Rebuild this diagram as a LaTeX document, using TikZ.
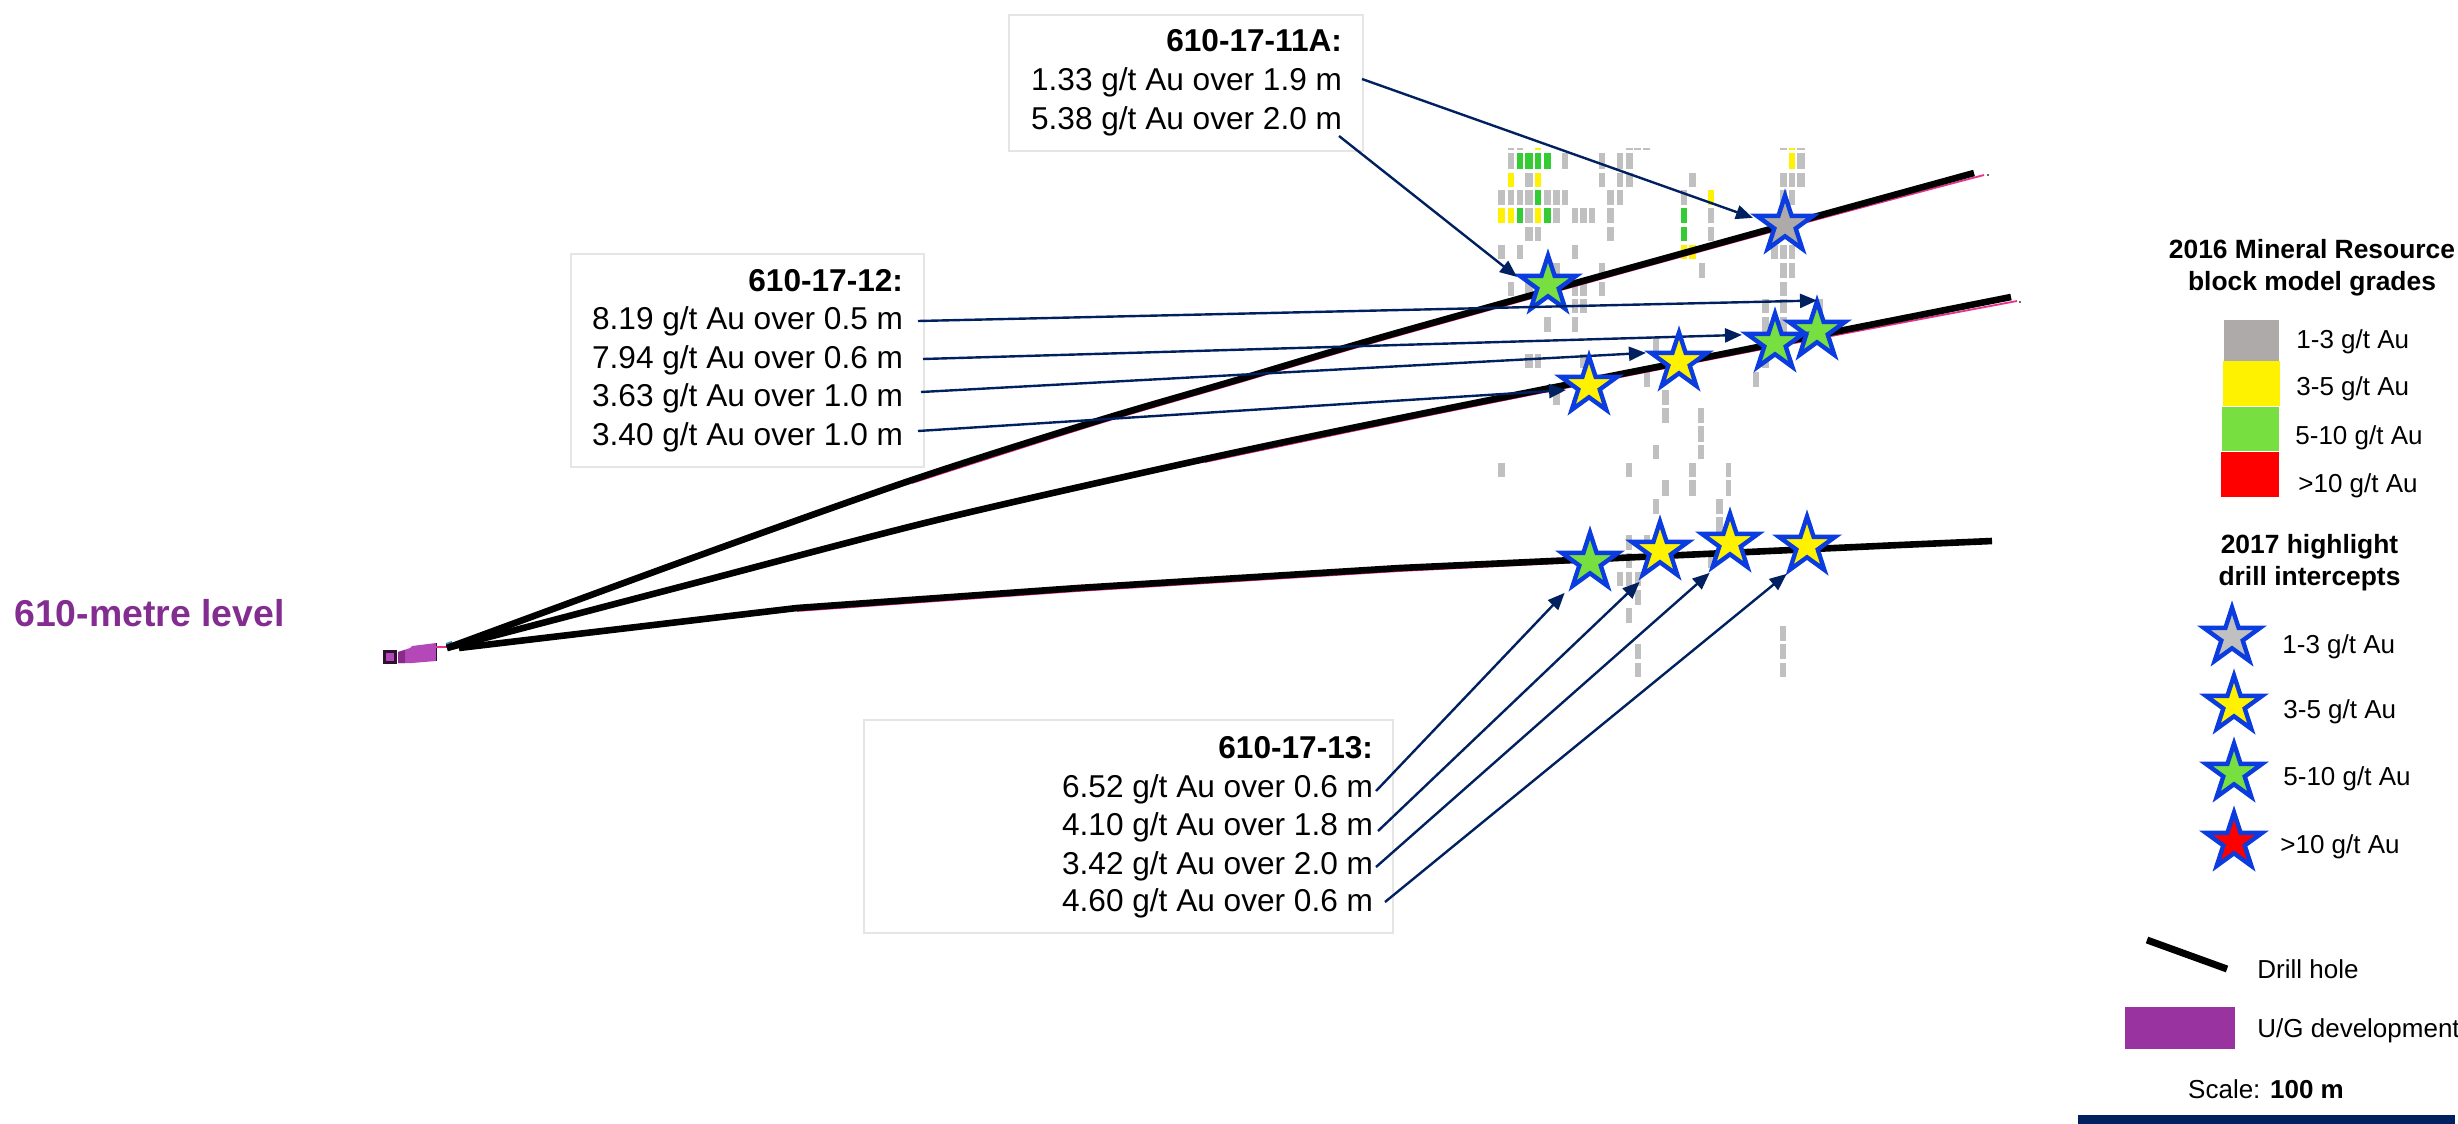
\documentclass[tikz,border=0pt]{standalone}
\usepackage{fontspec}
\setmainfont{Liberation Sans}
\usetikzlibrary{shapes.geometric,arrows.meta}
\pgfdeclarelayer{toplayer}
\pgfsetlayers{main,toplayer}
\definecolor{navy}{HTML}{002060}
\definecolor{starblue}{HTML}{0A3CE0}
\definecolor{blkgray}{HTML}{C0C0C0}
\definecolor{blkgreen}{HTML}{33CC33}
\definecolor{stargray}{HTML}{AEAAAA}
\definecolor{stargreen}{HTML}{77DF3F}
\definecolor{purp}{HTML}{9933A0}
\definecolor{devpurp}{HTML}{B548B8}
\definecolor{devdark}{HTML}{8A2A8A}
\definecolor{devline}{HTML}{301030}
\definecolor{levelpurp}{HTML}{842D91}
\definecolor{hole}{HTML}{E8308C}
\newcommand\blkrow[4]{\foreach \a/\b in {#4} \fill[#1] (\a,#2) rectangle (\b,#3);}
\tikzset{
  hit/.style={font=\fontsize{15.8pt}{18pt}\selectfont,inner sep=0pt,outer sep=0pt,anchor=east,text height=.88em,text depth=.21em},
  leg/.style={font=\fontsize{13pt}{15pt}\selectfont,inner sep=0pt,anchor=base west},
  leghead/.style={font=\fontsize{13.2pt}{15pt}\selectfont\bfseries,inner sep=0pt,anchor=base},
  callout/.style={draw=black!10,line width=1pt,fill=white,anchor=north west,inner sep=0pt},
  gstar/.style={star,star points=5,star point ratio=2.618,minimum size=29.5pt,inner sep=0pt,outer sep=0pt,draw=starblue,line width=2.2pt,fill=#1},
  conn/.style={draw=navy,line width=1.2pt,-{Triangle[length=8.5pt,width=7pt]}},
  drillhole/.style={draw=black,line width=3.3pt},
  trace/.style={draw=hole,line width=.9pt},
}
\begin{document}
\begin{tikzpicture}[x=0.5pt,y=-0.5pt]
\useasboundingbox (0,0) rectangle (2458,1124);

% block model
\begin{scope}[shift={(1400,100)},x=.1666667pt,y=-.1666667pt]
\blkrow{blkgray}{143}{150}{323/342,352/370,678/698,702/724,730/750,1140/1160,1192/1216}
\blkrow{yellow}{143}{150}{404/424,1168/1186}
\blkrow{blkgray}{160}{207}{323/342,486/505,596/615,650/668,678/698,1192/1216}
\blkrow{blkgreen}{160}{207}{352/370,376/400,404/424,432/452}
\blkrow{yellow}{160}{207}{1168/1186}
\blkrow{yellow}{218}{262}{323/342,404/424}
\blkrow{blkgray}{218}{262}{376/400,596/615,650/668,678/698,866/888,1140/1160,1168/1186,1192/1216}
\blkrow{blkgray}{271}{314}{295/316,323/342,352/370,376/400,432/452,458/480,486/505,622/642,650/668,842/860,1140/1160,1168/1186}
\blkrow{blkgreen}{271}{314}{404/424}
\blkrow{yellow}{271}{314}{923/941}
\blkrow{yellow}{325}{370}{295/316,323/342,404/424}
\blkrow{blkgreen}{325}{370}{352/370,432/452,842/860}
\blkrow{blkgray}{325}{370}{376/400,458/480,516/534,540/562,568/586,622/642,923/941,1140/1160}
\blkrow{blkgray}{381}{424}{376/400,404/424,622/642,923/941}
\blkrow{blkgreen}{381}{424}{842/860}
\blkrow{blkgray}{435}{478}{295/316,352/370,516/534,1112/1134,1140/1160,1168/1186}
\blkrow{yellow}{435}{478}{842/860,866/888}
\blkrow{blkgray}{488}{534}{458/480,596/615,896/914,1140/1160,1168/1186}
\blkrow{blkgray}{545}{588}{323/342,376/400,404/424,516/534,540/562,596/615,1140/1160}
\blkrow{blkgray}{598}{640}{516/534,540/562,1086/1106,1140/1160,1250/1270}
\blkrow{blkgray}{652}{696}{433/452,516/534,1086/1106,1140/1160}
\blkrow{blkgray}{712}{755}{760/778,1086/1106}
\blkrow{blkgray}{762}{805}{376/400,404/424,540/562,1086/1106}
\blkrow{blkgray}{815}{860}{732/750,1058/1076}
\blkrow{blkgray}{870}{914}{458/480,785/806}
\blkrow{blkgray}{925}{968}{785/806,895/913}
\blkrow{blkgray}{978}{1025}{895/913}
\blkrow{blkgray}{1035}{1078}{760/778,895/913}
\blkrow{blkgray}{1088}{1132}{295/316,678/696,866/888,977/994}
\blkrow{blkgray}{1141}{1188}{785/806,866/888,977/994}
\blkrow{blkgray}{1198}{1241}{760/778,948/970}
\blkrow{blkgray}{1252}{1295}{948/970}
\blkrow{blkgray}{1305}{1350}{678/696,732/750}
\blkrow{blkgray}{1360}{1405}{678/696,923/941}
\blkrow{blkgray}{1415}{1457}{650/668,678/696,704/724}
\blkrow{blkgray}{1470}{1515}{704/724}
\blkrow{blkgray}{1525}{1568}{678/696}
\blkrow{blkgray}{1578}{1622}{1140/1158}
\blkrow{blkgray}{1632}{1676}{704/724,1140/1158}
\blkrow{blkgray}{1689}{1732}{704/724,1140/1158}
\end{scope}

% development at the collar
\fill[devpurp] (398,652) -- (410,648) -- (412,646) -- (436,643) -- (436,661) -- (412,663) -- (398,663) -- cycle;
\fill[devdark] (398,652) -- (405,650) -- (405,663) -- (398,663) -- cycle;
\draw[draw=devline,line width=1.5pt,fill=devpurp] (384.5,651) rectangle (395,662);
\draw[devline,line width=.5pt] (436,643) -- (436,661);
\draw[hole,line width=1pt] (436,647) -- (447,647);
\draw[cyan!70!black,line width=1pt] (446,644) -- (452,642);

% traces under the holes
\draw[trace] plot[smooth,tension=.5] coordinates {(912,483) (1097,424) (1237,383) (1400,335) (1767,233) (1984,175)};
\draw[trace] plot[smooth,tension=.5] coordinates {(1205,462) (1440,413) (1753,351) (2017,301)};
\draw[trace] (797,611) -- (1078,591) -- (1400,571) -- (1620,560);
\fill[black!60] (1987,174) rectangle (1989,176);
\fill[black!60] (2019,301) rectangle (2021,303);

% drill holes
\draw[drillhole] plot[smooth,tension=.5] coordinates {(447,648) (695,557) (912,480) (1097,421) (1237,380) (1400,332) (1767,230) (1974,173)};
\draw[drillhole] plot[smooth,tension=.5] coordinates {(447,648) (695,583) (937,520) (1205,459) (1440,410) (1753,348) (2011,297)};
\draw[drillhole] (459,648) -- (797,608) -- (1078,588) -- (1400,568) -- (1900,545) -- (1992,541);

% callout boxes
\node[callout,minimum width=177pt,minimum height=68pt] (box11) at (1008,14) {};
\node[callout,minimum width=176.5pt,minimum height=106.5pt] (box12) at (570,253) {};
\node[callout,minimum width=264.5pt,minimum height=106.5pt] (box13) at (863,719) {};

\node[hit,font=\fontsize{15.8pt}{18pt}\selectfont\bfseries] (t11) at (1342,45) {610-17-11A:};
\node[hit] (a1) at (1342,84) {1.33 g/t Au over 1.9 m};
\node[hit] (a2) at (1342,123) {5.38 g/t Au over 2.0 m};

\node[hit,font=\fontsize{15.8pt}{18pt}\selectfont\bfseries] (t12) at (903,285) {610-17-12:};
\node[hit] (b1) at (903,323) {8.19 g/t Au over 0.5 m};
\node[hit] (b2) at (903,362) {7.94 g/t Au over 0.6 m};
\node[hit] (b3) at (903,400) {3.63 g/t Au over 1.0 m};
\node[hit] (b4) at (903,439) {3.40 g/t Au over 1.0 m};

\node[hit,font=\fontsize{15.8pt}{18pt}\selectfont\bfseries] (t13) at (1373,752) {610-17-13:};
\node[hit] (c1) at (1373,791) {6.52 g/t Au over 0.6 m};
\node[hit] (c2) at (1373,829) {4.10 g/t Au over 1.8 m};
\node[hit] (c3) at (1373,868) {3.42 g/t Au over 2.0 m};
\node[hit] (c4) at (1373,905) {4.60 g/t Au over 0.6 m};

% stars
\node[gstar=stargray] (sa1) at (1785,225) {};
\node[gstar=stargreen] (sa2) at (1548,285) {};
\node[gstar=stargreen] (sb1) at (1817,331) {};
\node[gstar=stargreen] (sc1) at (1590,562) {};
\node[gstar=yellow] (sc2) at (1660,551) {};
\node[gstar=yellow] (sc3) at (1730,543) {};
\node[gstar=yellow] (sc4) at (1807,546) {};
\begin{pgfonlayer}{toplayer}
\node[gstar=stargreen] (sb2) at (1775,343) {};
\node[gstar=yellow] (sb3) at (1679,362) {};
\node[gstar=yellow] (sb4) at (1589,386) {};
\end{pgfonlayer}

% connectors
\draw[conn] ([xshift=10pt,yshift=2.5pt]a1.east) -- ([xshift=-2pt,yshift=-1pt]sa1.outer point 2);
\draw[conn] ([xshift=-1.5pt,yshift=-6.5pt]a2.east) -- ([xshift=-1.5pt,yshift=-.5pt]sa2.outer point 2);
\draw[conn] ([xshift=7.5pt,yshift=1pt]b1.east) -- ([yshift=.5pt]sb1.outer point 1);
\draw[conn] ([xshift=10pt,yshift=1.5pt]b2.east) -- ([xshift=-2.5pt,yshift=-.5pt]sb2.outer point 2);
\draw[conn] ([xshift=9pt,yshift=4pt]b3.east) -- ([xshift=-2.5pt]sb3.outer point 2);
\draw[conn] ([xshift=7.5pt,yshift=4pt]b4.east) -- ([xshift=-11.5pt,yshift=-2pt]sb4.center);
\draw[conn] ([xshift=1.5pt]c1.east) -- ([xshift=-4pt,yshift=-3.5pt]sc1.outer point 3);
\draw[conn] ([xshift=2.5pt,yshift=-1pt]c2.east) -- ([xshift=-1.5pt,yshift=-3.5pt]sc2.outer point 3);
\draw[conn] ([xshift=1.5pt,yshift=.5pt]c3.east) -- ([xshift=-1.5pt,yshift=-3pt]sc3.outer point 3);
\draw[conn] ([xshift=6pt,yshift=1.5pt]c4.east) -- ([xshift=-1.5pt,yshift=-2pt]sc4.outer point 3);

% level label
\node[font=\fontsize{18.7pt}{22pt}\selectfont\bfseries,text=levelpurp,inner sep=0pt,anchor=base west] (level) at (14,626) {610-metre level};

% legend: block model
\node[leghead] (h1a) at (2312,258) {2016 Mineral Resource};
\node[leghead] (h1b) at (2312,290) {block model grades};
\fill[stargray] (2224,320) rectangle (2279,361);
\fill[yellow] (2223,361) rectangle (2280,406);
\fill[stargreen] (2222,407) rectangle (2279,451);
\fill[red] (2221,452) rectangle (2279,497);
\node[leg] (l1) at (2296,348) {1-3 g/t Au};
\node[leg] (l2) at (2296,395) {3-5 g/t Au};
\node[leg] (l3) at (2295,444) {5-10 g/t Au};
\node[leg] (l4) at (2298,492) {>10 g/t Au};

% legend: intercepts
\node[leghead] (h2a) at (2309.5,553) {2017 highlight};
\node[leghead] (h2b) at (2309.5,585) {drill intercepts};
\node[gstar=blkgray] (k1) at (2232,637) {};
\node[gstar=yellow] (k2) at (2234,705) {};
\node[gstar=stargreen] (k3) at (2234,773) {};
\node[gstar=red] (k4) at (2234,842) {};
\node[leg] (m1) at (2282,653) {1-3 g/t Au};
\node[leg] (m2) at (2283,718) {3-5 g/t Au};
\node[leg] (m3) at (2283,785) {5-10 g/t Au};
\node[leg] (m4) at (2280,853) {>10 g/t Au};

% legend: other
\draw[black,line width=3.5pt] (2147,940) -- (2227,969);
\node[leg] (dh) at (2257,978) {Drill hole};
\fill[purp] (2125,1007) rectangle (2235,1049);
\node[leg] (ug) at (2257,1037) {U/G development};
\node[font=\fontsize{13pt}{15pt}\selectfont,inner sep=0pt,anchor=base] (sc) at (2266,1098) {Scale: \textbf{100 m}};
\fill[navy] (2078,1115) rectangle (2455,1124);
\end{tikzpicture}
\end{document}
